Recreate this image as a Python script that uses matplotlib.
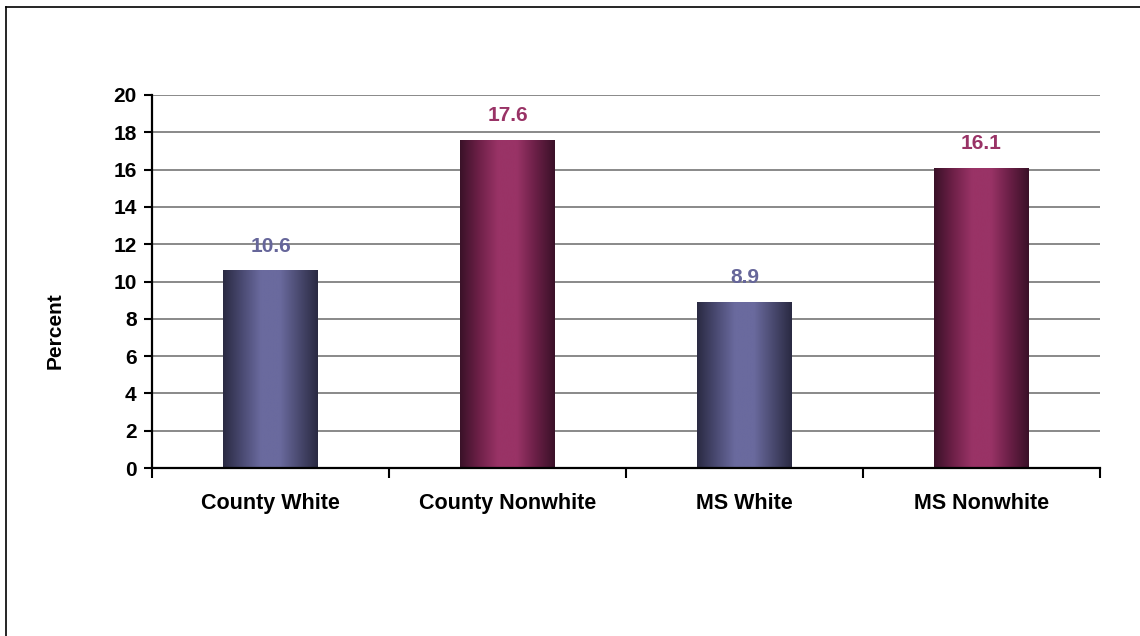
import matplotlib.pyplot as plt
import numpy as np
from matplotlib.colors import LinearSegmentedColormap
from matplotlib.lines import Line2D

categories = ['County White', 'County Nonwhite', 'MS White', 'MS Nonwhite']
values = [10.6, 17.6, 8.9, 16.1]
groups = ['white', 'nonwhite', 'white', 'nonwhite']
y_ticks = [0, 2, 4, 6, 8, 10, 12, 14, 16, 18, 20]

plt.rcParams['font.family'] = ['Liberation Sans', 'DejaVu Sans']

cmaps = {
    'white': LinearSegmentedColormap.from_list(
        'w', ['#2a2a42', '#4a4a72', '#6a6a9e', '#6a6a9e', '#4a4a70', '#2a2a42']),
    'nonwhite': LinearSegmentedColormap.from_list(
        'n', ['#3a1128', '#6e2048', '#993366', '#993366', '#6a1f46', '#3a1128']),
}
label_colors = {'white': '#66669a', 'nonwhite': '#993366'}

fig = plt.figure(figsize=(11.4, 6.36), dpi=100)
ax = fig.add_axes([152 / 1140, 1 - 468 / 636, (1100 - 152) / 1140, (468 - 95) / 636])

x = np.arange(len(categories))
width = 0.4
grad = np.linspace(0, 1, 256).reshape(1, -1)

for xi, v, g in zip(x, values, groups):
    bar = ax.bar(xi, v, width=width, color='none', zorder=3)[0]
    im = ax.imshow(grad, cmap=cmaps[g], aspect='auto', zorder=3,
                   extent=[xi - width / 2, xi + width / 2, 0, v])
    im.set_clip_path(bar)
    ax.text(xi, v + 1.3, f'{v}', ha='center', va='center', fontsize=15,
            fontweight='bold', color=label_colors[g], zorder=4)

ax.set_xlim(-0.5, len(categories) - 0.5)
ax.set_ylim(0, 20)
ax.set_yticks(y_ticks)
ax.set_xticks(x)
ax.set_xticklabels(categories, fontsize=15.5, fontweight='bold')
ax.set_xticks(np.arange(len(categories) + 1) - 0.5, minor=True)
ax.tick_params(axis='x', which='major', length=0, pad=18)
ax.tick_params(axis='x', which='minor', length=7, width=1.5, direction='out')
ax.tick_params(axis='y', length=6, width=1.5, direction='out', labelsize=15, pad=5)
for lab in ax.get_yticklabels():
    lab.set_fontweight('bold')

ax.yaxis.grid(True, color='#808080', linewidth=1.3, zorder=0)
ax.set_axisbelow(True)
for s in ['top', 'right']:
    ax.spines[s].set_visible(False)
for s in ['left', 'bottom']:
    ax.spines[s].set_linewidth(1.6)
    ax.spines[s].set_zorder(5)

fig.text(55 / 1140, 1 - 331 / 636, 'Percent', rotation=90, ha='center', va='center',
         fontsize=15, fontweight='bold')

# outer frame (left and top edges visible)
fig.add_artist(Line2D([6 / 1140, 6 / 1140], [0, 1 - 7 / 636], transform=fig.transFigure,
                      color='black', linewidth=1.2))
fig.add_artist(Line2D([6 / 1140, 1], [1 - 7 / 636, 1 - 7 / 636], transform=fig.transFigure,
                      color='black', linewidth=1.2))

fig.savefig('out.png', dpi=100)
